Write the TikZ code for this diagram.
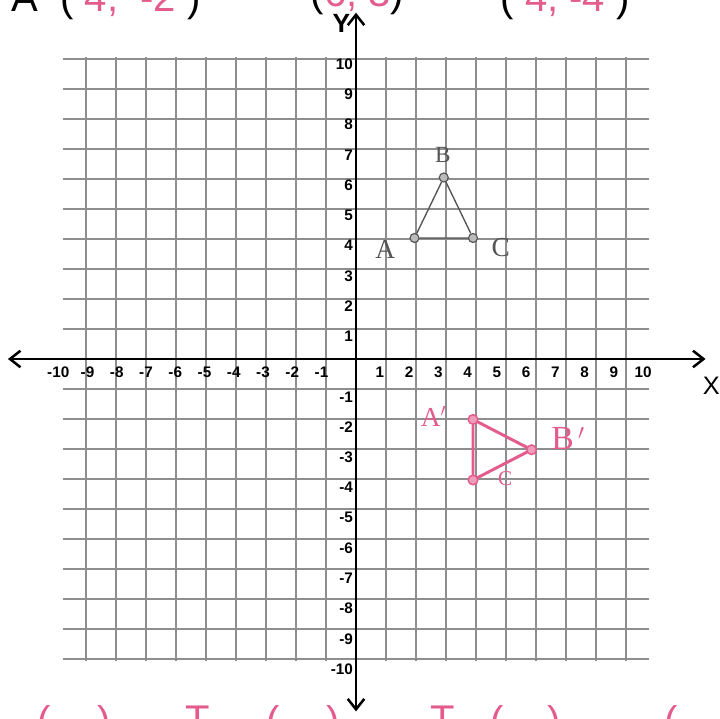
\documentclass[tikz,border=0pt]{standalone}
\usepackage{fontspec}
\setmainfont{Liberation Sans}
\newfontfamily\handfont{Liberation Serif}
\usepackage{tikz}
\usetikzlibrary{arrows.meta, positioning, calc}
\definecolor{InkPink}{HTML}{E45C8D}
\definecolor{PencilGray}{HTML}{555555}
\definecolor{GridGray}{HTML}{8E8E8E}

\begin{document}
\begin{tikzpicture}[
    x=0.975cm, y=1.0083cm,
    gridline/.style={draw=GridGray, line width=1.3pt},
    axis/.style={line width=2.4pt, {Straight Barb[length=3.5mm, width=5.5mm]}-{Straight Barb[length=3.5mm, width=5.5mm]}},
    tick/.style={font=\fontsize{14.5}{16}\selectfont\bfseries, inner sep=0pt},
    axlabel/.style={font=\fontsize{24}{26}\selectfont, inner sep=0pt},
    pencil/.style={draw=PencilGray, line width=1.3pt},
    pdot/.style={circle, draw=PencilGray, fill=PencilGray!40, line width=1.1pt, minimum size=0.3cm, inner sep=0pt},
    ink/.style={draw=InkPink, line width=2.8pt, line cap=round},
    idot/.style={circle, draw=InkPink, fill=InkPink!60, line width=1.4pt, minimum size=0.32cm, inner sep=0pt},
    hand/.style={font=\handfont\fontsize{26}{28}\selectfont, inner sep=0pt},
    scrawl/.style={font=\fontsize{38}{40}\selectfont, inner sep=0pt}
]
    \useasboundingbox (-12.171,-11.901) rectangle (12.444,11.868);
    \clip (-12.171,-11.901) rectangle (12.444,11.868);

    % grid
    \draw[gridline] (-10,-10) grid (10,10);

    % triangle ABC (pencil)
    \node[pdot] (A) at (2,4) {};
    \node[pdot] (B) at (3,6) {};
    \node[pdot] (C) at (4,4) {};
    \draw[pencil] (A) -- (B) -- (C) -- (A);
    \node[hand, text=PencilGray] (labA) at (1.0,3.62) {A};
    \node[hand, text=PencilGray, font=\handfont\fontsize{22}{24}\selectfont] (labB) at (2.97,6.74) {B};
    \node[hand, text=PencilGray] (labC) at (4.95,3.68) {C};

    % image A'B'C' (pink ink)
    \node[idot] (A1) at (4,-2) {};
    \node[idot] (B1) at (6,-3) {};
    \node[idot] (C1) at (4,-4) {};
    \draw[ink] (A1) -- (B1) -- (C1) -- (A1);
    \node[hand, text=InkPink] (labA1) at (2.65,-1.9) {A$'$};
    \node[hand, text=InkPink, font=\handfont\fontsize{32}{34}\selectfont] (labB1) at (7.25,-2.62) {B$\,'$};
    \node[hand, text=InkPink, font=\handfont\fontsize{20}{22}\selectfont] (labC1) at (5.1,-3.95) {C};

    % axes
    \coordinate (xl) at (-11.9,0);
    \coordinate (xr) at (11.95,0);
    \coordinate (yt) at (0,11.45);
    \coordinate (yb) at (0,-11.65);
    \draw[axis] (xl) -- (xr);
    \draw[axis] (yb) -- (yt);
    \node[axlabel] (xname) at (12.15,-0.88) {X};
    \node[axlabel, font=\fontsize{25}{27}\selectfont\bfseries] (yname) at (-0.5,11.1) {Y};

    \foreach \k in {-10,...,-1,1,2,...,10} {
        \node[tick] (xt\k) at (\k-0.18,-0.45) {\k};
        \node[tick, anchor=east] (yt\k) at (-0.1,\k-0.25) {\k};
    }

    % answers written above and below, cut by the page edge
    \node[scrawl, anchor=base] (ansA) at (-8.55,11.5) {A\ \ (\ \textcolor{InkPink}{4,\ \ -2}\ )};
    \node[scrawl, anchor=base] (ansB) at (0.05,11.65) {(\textcolor{InkPink}{6,\ 3})\ };
    \node[scrawl, anchor=base] (ansC) at (7.15,11.5) {(\ \textcolor{InkPink}{4,\ -4}\ )};
    \begin{scope}[every node/.style={scrawl, text=InkPink, anchor=north}]
        \node (rule1) at (-9.65,-11.45) {(-\ \ \ )};
        \node (rule2) at (-5.4,-11.45) {T};
        \node (rule3) at (-1.8,-11.45) {(\ -\ \ )};
        \node (rule4) at (2.95,-11.45) {T};
        \node (rule5) at (5.8,-11.45) {(\ \ \ \ )};
        \node (rule6) at (11.2,-11.45) {(\ -};
    \end{scope}
\end{tikzpicture}
\end{document}
